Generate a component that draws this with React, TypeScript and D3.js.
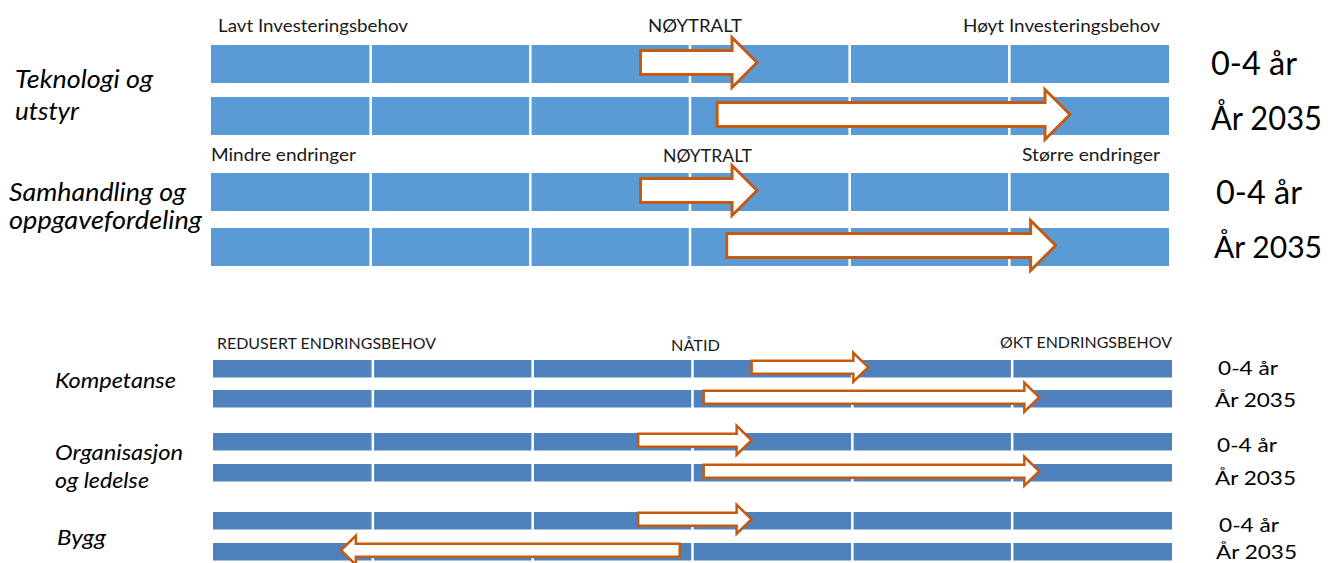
import React from 'react';
import * as d3 from 'd3';

// ---------- DATA ----------
const segmentStarts = [-3, -2, -1, 0, 1, 2];
const periods = ['0-4 år', 'År 2035'];

const topCategories = [['Teknologi og', 'utstyr'], ['Samhandling og', 'oppgavefordeling']];
const topLowLabels = ['Lavt Investeringsbehov', 'Mindre endringer'];
const topMidLabel = 'NØYTRALT';
const topHighLabels = ['Høyt Investeringsbehov', 'Større endringer'];
const topArrowFrom = [[-0.31, 0.17], [-0.31, 0.23]];
const topArrowTo = [[0.42, 2.38], [0.42, 2.29]];

const bottomCategories = [['Kompetanse'], ['Organisasjon', 'og ledelse'], ['Bygg']];
const bottomLowLabel = 'REDUSERT ENDRINGSBEHOV';
const bottomMidLabel = 'NÅTID';
const bottomHighLabel = 'ØKT ENDRINGSBEHOV';
const bottomArrowFrom = [[0.37, 0.07], [-0.34, 0.07], [-0.34, -0.08]];
const bottomArrowTo = [[1.1, 2.17], [0.37, 2.17], [0.37, -2.2]];

// ---------- LAYOUT ----------
const W = 1331, H = 563;
const FONT = "Lato, 'Open Sans', 'DejaVu Sans', sans-serif";
const ORANGE = '#C55A11';

const topX = d3.scaleLinear().domain([-3, 3]).range([211, 1169]);
const botX = d3.scaleLinear().domain([-3, 3]).range([213, 1172]);

const topRowTops = [[45, 97], [173, 228]];
const topBarH = 38;
const botRowTops = [[360, 390], [433, 464], [512, 543]];
const botBarH = 17.5;

const topHeaderPos = [
  { low: [218, 32, 190], mid: [648, 32, 94], high: [963, 32, 197] },
  { low: [211, 161, 145], mid: [663, 162, 89], high: [1022, 161, 138] },
];
const topLeftPos = [
  { x: 15, ys: [88, 120], ws: [138, 64] },
  { x: 9, ys: [201, 229], ws: [177, 193] },
];
const topRightPos = [
  [[1211, 75, 86, 33], [1211, 130, 111, 33]],
  [[1216, 204, 86, 33], [1214, 258, 108, 31]],
];
const botHeaderPos = { low: [217, 349, 219], mid: [671, 351, 49], high: [1000, 348, 172] };
const botLeftPos = [
  { x: 55, ys: [388], ws: [121] },
  { x: 55, ys: [460, 488], ws: [128, 94] },
  { x: 57, ys: [545], ws: [49] },
];
const botRightPos = [
  [[1218, 375, 60], [1215, 407, 81]],
  [[1217, 452, 60], [1215, 485, 81]],
  [[1219, 532, 60], [1216, 559, 81]],
];

function arrowPath(x0: number, x1: number, cy: number, bh: number, hh: number, hl: number) {
  const dir = x1 >= x0 ? 1 : -1;
  const base = x1 - dir * hl;
  const p = d3.path();
  p.moveTo(x0, cy - bh);
  p.lineTo(base, cy - bh);
  p.lineTo(base, cy - hh);
  p.lineTo(x1, cy);
  p.lineTo(base, cy + hh);
  p.lineTo(base, cy + bh);
  p.lineTo(x0, cy + bh);
  p.closePath();
  return p.toString();
}

function Txt({ x, y, w, size, italic, text, color }: any) {
  return (
    <text
      x={x}
      y={y}
      fontSize={size}
      fontStyle={italic ? 'italic' : 'normal'}
      fill={color || '#000'}
      textLength={w}
      lengthAdjust="spacingAndGlyphs"
      fontFamily={FONT}
    >
      {text}
    </text>
  );
}

function Bar({ scale, y, h, color }: any) {
  const gap = 2.5;
  return (
    <g>
      {segmentStarts.map((s, i) => {
        const xa = scale(s) + (i === 0 ? 0 : gap / 2);
        const xb = scale(s + 1) - (i === segmentStarts.length - 1 ? 0 : gap / 2);
        return <rect key={i} x={xa} y={y} width={xb - xa} height={h} fill={color} />;
      })}
    </g>
  );
}

export default function App() {
  return (
    <svg
      width={W}
      height={H}
      viewBox={`0 0 ${W} ${H}`}
      style={{ position: 'absolute', left: 0, top: 0, background: '#fff' }}
    >
      <rect width={W} height={H} fill="#fff" />
      {/* TOP SECTION */}
      {topCategories.map((cat, ci) => (
        <g key={'t' + ci}>
          <Txt x={topHeaderPos[ci].low[0]} y={topHeaderPos[ci].low[1]} w={topHeaderPos[ci].low[2]} size={16.5} text={topLowLabels[ci]} color="#1a1a1a" />
          <Txt x={topHeaderPos[ci].mid[0]} y={topHeaderPos[ci].mid[1]} w={topHeaderPos[ci].mid[2]} size={16.5} text={topMidLabel} color="#1a1a1a" />
          <Txt x={topHeaderPos[ci].high[0]} y={topHeaderPos[ci].high[1]} w={topHeaderPos[ci].high[2]} size={16.5} text={topHighLabels[ci]} color="#1a1a1a" />
          {cat.map((line, li) => (
            <Txt key={li} x={topLeftPos[ci].x} y={topLeftPos[ci].ys[li]} w={topLeftPos[ci].ws[li]} size={25} italic text={line} />
          ))}
          {periods.map((p, pi) => {
            const yTop = topRowTops[ci][pi];
            const cy = yTop + topBarH / 2 - 1.5;
            const rp = topRightPos[ci][pi];
            return (
              <g key={pi}>
                <Bar scale={topX} y={yTop} h={topBarH} color="#5B9BD5" />
                <path
                  d={arrowPath(topX(topArrowFrom[ci][pi]), topX(topArrowTo[ci][pi]), cy, 12, 25, 25)}
                  fill="#fff"
                  stroke={ORANGE}
                  strokeWidth={3}
                  strokeLinejoin="miter"
                />
                <Txt x={rp[0]} y={rp[1]} w={rp[2]} size={rp[3]} text={p} />
              </g>
            );
          })}
        </g>
      ))}

      {/* BOTTOM SECTION */}
      <Txt x={botHeaderPos.low[0]} y={botHeaderPos.low[1]} w={botHeaderPos.low[2]} size={16} text={bottomLowLabel} color="#1a1a1a" />
      <Txt x={botHeaderPos.mid[0]} y={botHeaderPos.mid[1]} w={botHeaderPos.mid[2]} size={16} text={bottomMidLabel} color="#1a1a1a" />
      <Txt x={botHeaderPos.high[0]} y={botHeaderPos.high[1]} w={botHeaderPos.high[2]} size={16} text={bottomHighLabel} color="#1a1a1a" />
      {bottomCategories.map((cat, ci) => (
        <g key={'b' + ci}>
          {cat.map((line, li) => (
            <Txt key={li} x={botLeftPos[ci].x} y={botLeftPos[ci].ys[li]} w={botLeftPos[ci].ws[li]} size={21} italic text={line} />
          ))}
          {periods.map((p, pi) => {
            const yTop = botRowTops[ci][pi];
            const cy = yTop + botBarH / 2 - 1.5;
            return (
              <g key={pi}>
                <Bar scale={botX} y={yTop} h={botBarH} color="#4F81BD" />
                <path
                  d={arrowPath(botX(bottomArrowFrom[ci][pi]), botX(bottomArrowTo[ci][pi]), cy, 6.5, 14.5, 15)}
                  fill="#fff"
                  stroke={ORANGE}
                  strokeWidth={2.5}
                />
                <Txt x={botRightPos[ci][pi][0]} y={botRightPos[ci][pi][1]} w={botRightPos[ci][pi][2]} size={20} text={p} />
              </g>
            );
          })}
        </g>
      ))}
    </svg>
  );
}
